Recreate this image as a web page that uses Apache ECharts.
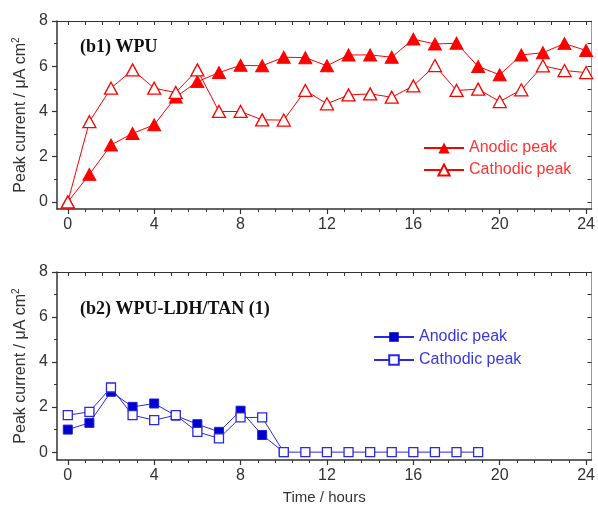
<!DOCTYPE html>
<html><head><meta charset="utf-8">
<script src="https://cdn.jsdelivr.net/npm/echarts@6/dist/echarts.min.js"></script>
<style>html,body{margin:0;padding:0;background:#fff}#c{width:598px;height:506px}</style>
</head><body><div id="c"></div>
<script>
// ---- data ----
const hoursTop = [0,1,2,3,4,5,6,7,8,9,10,11,12,13,14,15,16,17,18,19,20,21,22,23,24];
const wpuAnodic   = [0,1.22,2.52,3.03,3.41,4.64,5.32,5.72,6.04,6.02,6.4,6.38,6.02,6.5,6.5,6.4,7.2,6.98,7.02,5.99,5.62,6.5,6.6,7.0,6.7];
const wpuCathodic = [0,3.55,5.03,5.84,5.03,4.84,5.84,4.0,4.0,3.63,3.62,4.93,4.34,4.73,4.78,4.63,5.13,6.03,4.93,4.99,4.44,4.96,6.02,5.81,5.72];
const hoursBottomAnodic = [0,1,2,3,4,5,6,7,8,9,10];
const ldhAnodic = [1.0,1.3,2.68,2.01,2.16,1.62,1.24,0.9,1.84,0.76,0];
const hoursBottomCathodic = [0,1,2,3,4,5,6,7,8,9,10,11,12,13,14,15,16,17,18,19];
const ldhCathodic = [1.64,1.79,2.87,1.64,1.42,1.64,0.9,0.61,1.54,1.54,0,0,0,0,0,0,0,0,0,0];
const xTickLabels = [0,4,8,12,16,20,24];
const yTickLabels = [0,2,4,6,8];
const seriesNames = ['Anodic peak','Cathodic peak'];
const panelTitles = ['(b1) WPU','(b2) WPU-LDH/TAN (1)'];

const pairs = (xs, ys) => xs.map((x, i) => [x, ys[i]]);

// tick positions (styling)
const xMinor = []; for (let i = 1; i <= 30; i++) { const v = +(i*0.8).toFixed(2); if (i % 5 !== 0 && v < 24.3) xMinor.push(v); }
const xTopTicks = []; for (let i = 0; i <= 30; i++) { const v = +(i*0.8).toFixed(2); if (v <= 24.2) xTopTicks.push(v); }
const yMinor = [1,3,5,7];
const yRight = [0,1,2,3,4,5,6,7,8];

const frameColor = '#333';
const labelStyle = {color:'#333', fontSize:16, fontFamily:'Liberation Sans, Arial, sans-serif'};

const grids = [
  {left:57, top:21, width:539, height:188},
  {left:57, top:272, width:539, height:188}
];
const yMins = [-0.31, -0.35];

const xAxes = [], yAxes = [];
grids.forEach((g, gi) => {
  const isBottom = gi === 1;
  xAxes.push({
    type:'value', gridIndex:gi, position:'bottom', min:-0.5, max:24.25,
    splitLine:{show:false},
    axisLine:{show:true, onZero:false, lineStyle:{color:frameColor, width:1.5}},
    axisTick:{show:true, inside:false, length:5, customValues:xTickLabels, lineStyle:{color:frameColor, width:1.2}},
    axisLabel:{show:true, margin:8, customValues:xTickLabels, ...labelStyle},
    name: isBottom ? 'Time / hours' : '', nameLocation:'middle', nameGap:30,
    nameTextStyle:{color:'#333', fontSize:15, fontFamily:'Liberation Sans, Arial, sans-serif'}
  });
  xAxes.push({
    type:'value', gridIndex:gi, position:'bottom', min:-0.5, max:24.25,
    splitLine:{show:false}, axisLine:{show:false, onZero:false},
    axisTick:{show:true, inside:false, length:3, customValues:xMinor, lineStyle:{color:frameColor, width:1}},
    axisLabel:{show:false}
  });
  xAxes.push({
    type:'value', gridIndex:gi, position:'top', min:-0.5, max:24.25,
    splitLine:{show:false},
    axisLine:{show:true, onZero:false, lineStyle:{color:frameColor, width:1.2}},
    axisTick:{show:true, inside:true, length:4, customValues:xTopTicks, lineStyle:{color:frameColor, width:1}},
    axisLabel:{show:false}
  });
  yAxes.push({
    type:'value', gridIndex:gi, position:'left', min:yMins[gi], max:8,
    splitLine:{show:false},
    axisLine:{show:true, onZero:false, lineStyle:{color:frameColor, width:1.5}},
    axisTick:{show:true, inside:false, length:5, customValues:yTickLabels, lineStyle:{color:frameColor, width:1.2}},
    axisLabel:{show:true, margin:9, customValues:yTickLabels, ...labelStyle},
    name:'Peak current / μA cm{sup|2}', nameLocation:'middle', nameGap:27, nameRotate:90,
    nameTextStyle:{color:'#333', fontSize:16, fontFamily:'Liberation Sans, Arial, sans-serif',
      rich:{sup:{fontSize:10, verticalAlign:'top', color:'#333', fontFamily:'Liberation Sans, Arial, sans-serif', padding:[0,0,8,0]}}}
  });
  yAxes.push({
    type:'value', gridIndex:gi, position:'left', min:yMins[gi], max:8,
    splitLine:{show:false}, axisLine:{show:false, onZero:false},
    axisTick:{show:true, inside:false, length:3, customValues:yMinor, lineStyle:{color:frameColor, width:1}},
    axisLabel:{show:false}
  });
  yAxes.push({
    type:'value', gridIndex:gi, position:'right', min:yMins[gi], max:8,
    splitLine:{show:false},
    axisLine:{show:true, onZero:false, lineStyle:{color:'#999', width:1}},
    axisTick:{show:true, inside:true, length:4, customValues:yRight, lineStyle:{color:frameColor, width:1}},
    axisLabel:{show:false}
  });
});

const red = '#ff0000', blue = '#0000cc';
const series = [
  {name:seriesNames[0], type:'line', xAxisIndex:0, yAxisIndex:0, data:pairs(hoursTop, wpuAnodic),
   symbol:'triangle', symbolSize:[13,12], showAllSymbol:true,
   lineStyle:{color:red, width:1}, itemStyle:{color:red, borderColor:red}, z:3},
  {name:seriesNames[1], type:'line', xAxisIndex:0, yAxisIndex:0, data:pairs(hoursTop, wpuCathodic),
   symbol:'triangle', symbolSize:[13,12], showAllSymbol:true,
   lineStyle:{color:red, width:1}, itemStyle:{color:'#fff', borderColor:red, borderWidth:1.3}, z:4},
  {name:seriesNames[0]+' ', type:'line', xAxisIndex:3, yAxisIndex:3, data:pairs(hoursBottomAnodic, ldhAnodic),
   symbol:'rect', symbolSize:9, showAllSymbol:true,
   lineStyle:{color:'#2a2ae0', width:1}, itemStyle:{color:blue, borderColor:'#2020dd'}, z:3},
  {name:seriesNames[1]+' ', type:'line', xAxisIndex:3, yAxisIndex:3, data:pairs(hoursBottomCathodic, ldhCathodic),
   symbol:'rect', symbolSize:9, showAllSymbol:true,
   lineStyle:{color:'#2a2ae0', width:1}, itemStyle:{color:'#fff', borderColor:'#2a2ae0', borderWidth:1.3}, z:4}
];

const chart = echarts.init(document.getElementById('c'), null, {renderer:'canvas'});
chart.setOption({
  animation:false,
  backgroundColor:'#fff',
  grid:grids,
  xAxis:xAxes,
  yAxis:yAxes,
  legend:[
    {data:[seriesNames[0], seriesNames[1]], orient:'vertical', left:423, top:140, padding:0, itemWidth:40, itemHeight:14, itemGap:6,
     textStyle:{color:'#ff3333', fontSize:16, fontFamily:'Liberation Sans, Arial, sans-serif'}},
    {data:[seriesNames[0]+' ', seriesNames[1]+' '], orient:'vertical', left:373, top:329, padding:0, itemWidth:40, itemHeight:12, itemGap:7,
     textStyle:{color:'#3838e0', fontSize:16, fontFamily:'Liberation Sans, Arial, sans-serif'}}
  ],
  graphic:[
    {type:'text', left:80, top:38, style:{text:panelTitles[0], fill:'#111', font:'bold 18px "Liberation Serif", "Times New Roman", serif'}},
    {type:'text', left:80, top:300, style:{text:panelTitles[1], fill:'#111', font:'bold 18px "Liberation Serif", "Times New Roman", serif'}}
  ],
  series:series
});
</script></body></html>
